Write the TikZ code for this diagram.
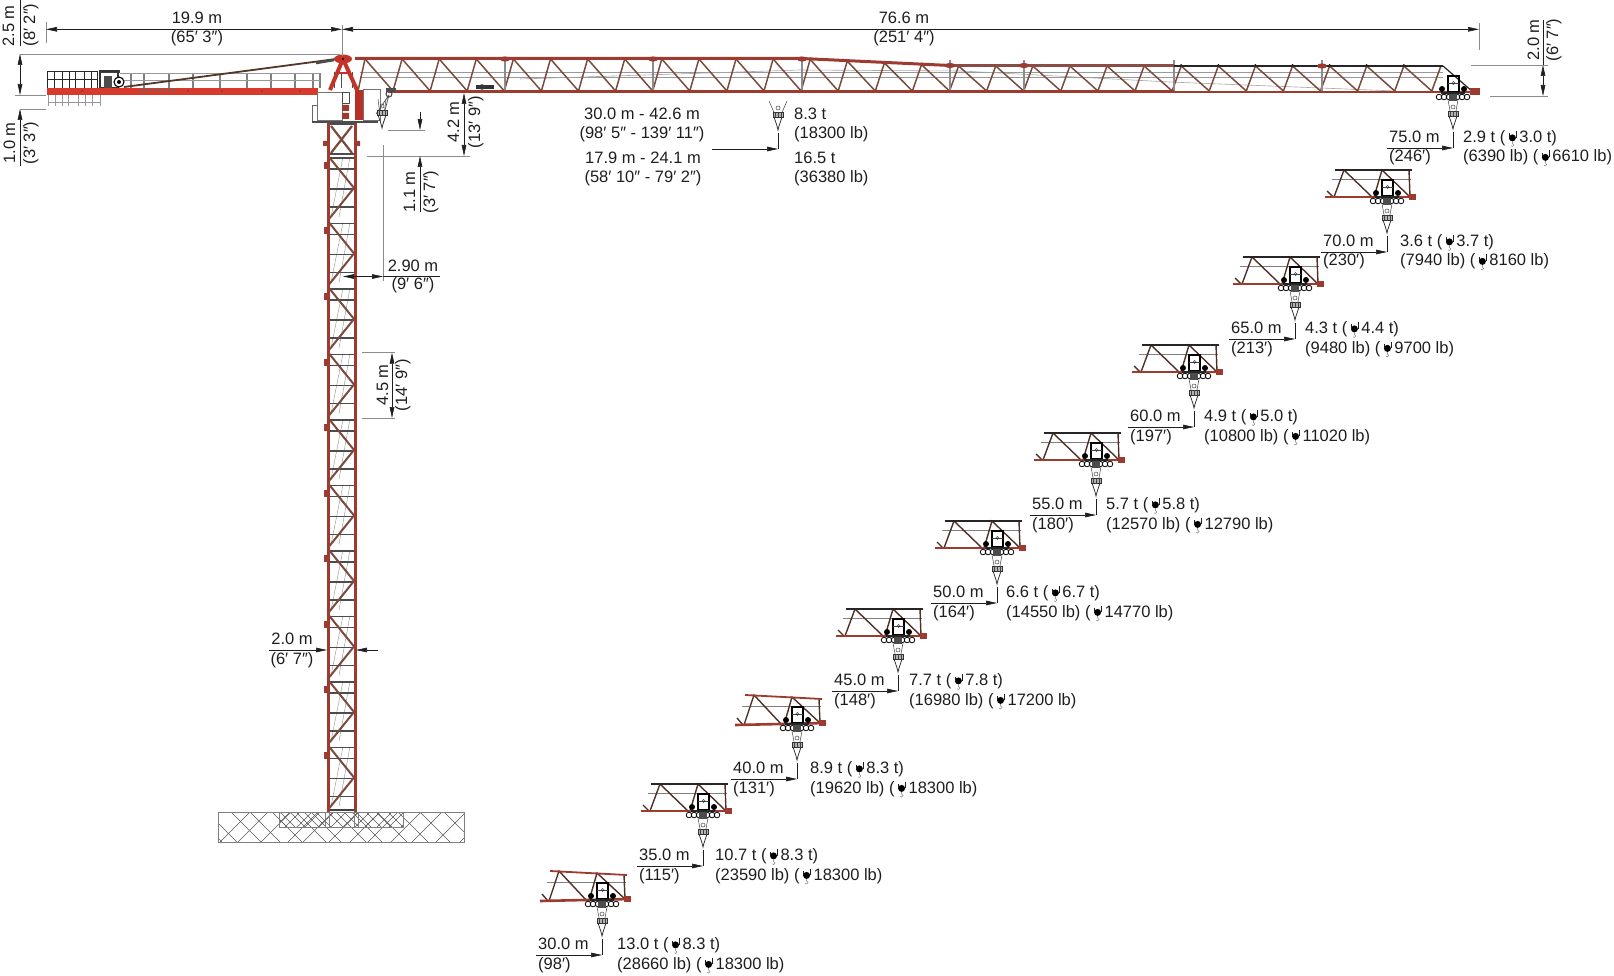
\documentclass[tikz,border=0pt]{standalone}
\usepackage{fontspec}
\setmainfont{Liberation Sans}
\usetikzlibrary{arrows.meta}
\usetikzlibrary{positioning}

\definecolor{steelred}{HTML}{9E3B30}
\definecolor{beamred}{HTML}{D9392B}
\definecolor{webbrown}{HTML}{7A4A3C}
\definecolor{textgrey}{HTML}{1E1E1E}
\definecolor{rulegrey}{HTML}{8C8C8C}

\tikzset{
  txt/.style={anchor=base,inner sep=0pt,text=textgrey,font=\fontsize{16.5}{19.7}\selectfont},
  txtl/.style={txt,anchor=base west},
  dimline/.style={line width=0.6pt,textgrey,{Stealth[length=11pt,width=4.6pt,inset=0pt]}-{Stealth[length=11pt,width=4.6pt,inset=0pt]}},
  dimend/.style={line width=0.6pt,textgrey,-{Stealth[length=11pt,width=4.6pt,inset=0pt]}},
  extline/.style={line width=0.7pt,rulegrey},
  chord/.style={line width=2.6pt,steelred},
  web/.style={line width=1.5pt,webbrown},
  fine/.style={line width=0.5pt,black!75},
}

% little hook in the load figures
\newcommand{\hk}{\tikz[x=1pt,y=1pt,baseline=0pt]{%
  \path (0,-4) rectangle (14,11);
  \fill[black] (7,4.6) circle (3.5);
  \draw[line width=0.5pt] (3.5,4.6)--(3.5,9) (10.5,4.6)--(10.5,11.5);
  \draw[line width=0.4pt,black!60] (7,1)--(7,-1) arc (90:-150:1.5);
}}

% hook block, tip at #1,#2, ropes spread #3
\newcommand{\hookblock}[3]{
\begin{scope}[shift={(#1,#2)}]
\draw[fine] (-#3,-29)--(-2,-13) (#3,-29)--(2,-13);
\draw[fine] (0,-22) circle (2);
\draw[line width=0.5pt,black!80,fill=black!30] (-5,-18) rectangle (5,-13);
\draw[fine] (-3,-18)--(-3,-13) (0,-18)--(0,-13) (3,-18)--(3,-13);
\draw[line width=0.8pt,black!80] (-4,-13)--(-1,-4)--(0,0)--(1,-4)--(4,-13);
\end{scope}
}

% trolley on the jib, tick of the dimension at #1,#2
\newcommand{\trolley}[2]{
\begin{scope}[shift={(#1,#2)}]
\draw[line width=1.3pt,black] (-5,-56) rectangle (6,-72);
\draw[fine] (-5,-65)--(6,-65);
\draw[fine] (0.5,-65) circle (1.5);
\fill[black] (-11,-59) circle (3) (11,-59) circle (3);
\foreach \w in {-14,-9,-4,4,9,14}
  \draw[line width=0.8pt] (\w,-51) circle (2.8);
\draw[line width=1.6pt,black!85] (-12,-55)--(12,-55);
\fill[black!70] (-4,-54) rectangle (4,-47);
\end{scope}
\hookblock{#1}{\the\numexpr#2-19\relax}{5}
}

% short piece of the jib with the trolley on it
\newcommand{\jibtip}[3]{
\begin{scope}[shift={(#1,#2)}]
\pgfmathsetmacro\ta{-82-2*#3}
\pgfmathsetmacro\tc{-82+2*#3}
\pgfmathsetmacro\ba{-55+#3}
\pgfmathsetmacro\bc{-55-#3}
\ifnum#3=1 \def\topc{steelred}\else\def\topc{black!85}\fi
\draw[line width=0.7pt,black!50] (-55,-73)--(24,-73);
\draw[line width=1.4pt,webbrown!65!black] (-60,-61)--(-54,\ba) (-53,\ba)--(-43,\ta)--(-15,\ba) (-13,\ba)--(-5,-82)--(23,\bc) (22,\tc)--(23,\bc);
\draw[line width=1.8pt,\topc] (-52,\ta)--(25,\tc);
\draw[line width=2.6pt,steelred] (-62,\ba)--(29,\bc);
\fill[steelred] (22,{\bc-3}) rectangle (29,{\bc+3});
\end{scope}
\trolley{#1}{#2}
}

\begin{document}
\begin{tikzpicture}[x=1pt,y=-1pt]
\useasboundingbox (0,0) rectangle (1614,976);

% foundation
\begin{scope}
\clip (218,812) rectangle (464,842);
\foreach \c in {170,192,207,231,250,272,296,311,336,352,377,398,420,444}
  \draw[line width=0.45pt,black!65] (\c,812)--(\c+30,842);
\foreach \c in {250,268,291,318,333,359,380,398,421,442,466,490}
  \draw[line width=0.45pt,black!65] (\c,812)--(\c-30,842);
\end{scope}
\begin{scope}
\clip (279,812) rectangle (403,827);
\foreach \c in {262,272,280,290,304,316,328,344,356,366,376,388}
  \draw[line width=0.45pt,black!65] (\c,812)--(\c+15,827);
\foreach \c in {290,300,312,320,334,346,358,370,380,392,404,416}
  \draw[line width=0.45pt,black!65] (\c,812)--(\c-15,827);
\end{scope}
\draw[line width=0.8pt,black!50] (218,812) rectangle (464,842);
\draw[line width=0.8pt,black!50] (279,812) rectangle (403,827);
\draw[line width=0.7pt,black!50] (325,812)--(325,827) (329,812)--(329,827) (354,812)--(354,827) (358,812)--(358,827);

% mast
\foreach \j in {0,...,9}{
  \pgfmathsetmacro\jy{155+65.5*\j}
  \draw[line width=0.4pt,black!45] (331,\jy+62)--(343,\jy+2) (339,\jy+62)--(350,\jy+2);
  \foreach \h in {3,14,34,52}
    \draw[line width=1.3pt,black!70] (329,\jy+\h)--(355,\jy+\h);
  \draw[line width=2pt,webbrown] (329,\jy+2)--(354,\jy+33)--(329,\jy+64);
  \fill[steelred] (324,\jy+7) rectangle (327,\jy+14);
}
\draw[line width=1.1pt,black!75] (329,810)--(355,810);
\draw[line width=2.2pt,webbrown] (331,126)--(352,153) (352,126)--(331,153);
\draw[line width=1.4pt,black!70] (327,124)--(356,124) (327,154)--(356,154);
\fill[steelred] (323,141) rectangle (327,146) (356,141) rectangle (360,146);
\draw[line width=3pt,steelred] (328.5,122)--(328.5,812);
\draw[line width=3pt,steelred] (355,122)--(355,812);

% counter jib
\foreach \x in {47,54,62,69,75,84,91,97}
  \draw[line width=1pt,black!85] (\x,72)--(\x,88);
\foreach \x in {48,55,62,68,78,85,92,100}
  \draw[line width=0.6pt,black!40] (\x,94)--(\x,106);
\draw[line width=0.6pt,black!40] (48,102)--(100,102);
\draw[line width=1pt,black!85] (47,72)--(98,72) (47,80)--(98,80);
\foreach \x in {131,144,169,193,220,247,271,295,313,320}
  \draw[line width=1.3pt,black!50] (\x,73)--(\x,88);
\draw[line width=0.7pt,black!40] (120,73)--(320,73) (120,80)--(320,80);
\fill[black!75] (100,70) rectangle (120,73);
\draw[line width=1.2pt,black!80] (100,71) rectangle (118,88);
\fill[black!70] (104,76) rectangle (112,88);
\draw[line width=1.1pt,black,fill=white] (119,82) circle (5);
\fill[black] (119,82) circle (2);
\draw[line width=1.8pt,webbrown!70!black] (124,87)--(336,59);
\draw[line width=2.6pt,black!70] (316,63)--(334,60);
\fill[beamred] (47,88) rectangle (318,95);
\foreach \x in {82,188,222,262,300}
  \fill[black!70] (\x,91) circle (1);
\draw[line width=1.4pt,black!60,dash pattern=on 3pt off 1.5pt] (140,90)--(175,90);

% slewing part and cab
\draw[line width=0.5pt,black!60,fill=white] (312,105) rectangle (318,122);
\draw[line width=0.6pt,black!55,fill=white] (317,92) rectangle (342,120);
\draw[line width=0.6pt,black!55,fill=white] (363,89) rectangle (380,120);
\draw[line width=1.2pt,black!70] (312,122)--(378,122);
\fill[steelred] (342,105) rectangle (349,111) (342,113) rectangle (349,119);
\fill[beamred!85!black] (355,90) rectangle (363,120);
\draw[line width=0.6pt,black!70] (342,92) rectangle (349,103);
\foreach \x in {334,341,352}
  \draw[line width=1pt,black!70] (\x,72)--(\x,88);
\draw[line width=4pt,beamred!90!black] (343,59)--(330,90);
\draw[line width=4pt,beamred!90!black] (343,59)--(357,90);
\draw[line width=2pt,beamred!90!black] (337,73)--(350,73);
\fill[beamred!90!black] (343,59) ellipse (9 and 4.5);
\fill[black] (343,59) circle (1.2);

% jib
\draw[line width=1pt,black!40] (360,73)--(1443,73);
\draw[line width=0.8pt,black!40] (360,77)--(1443,77);
\draw[line width=0.6pt,black!35] (520,79)--(800,70)--(961,71)--(1170,82)--(1396,91);
\foreach \k in {0,...,28}{
  \pgfmathsetmacro\tx{365+37.1*\k}
  \pgfmathsetmacro\bx{393+37.1*\k}
  \pgfmathsetmacro\nx{402.1+37.1*\k}
  \pgfmathsetmacro\ty{59+7*max(0,min(1,(\tx-802)/148))}
  \pgfmathsetmacro\ny{59+7*max(0,min(1,(\nx-802)/148))}
  \draw[web] (\tx,\ty)--(\bx,91)--(\nx,\ny);
  \fill[black] (\tx,\ty-0.8) circle (1.2);
}
\draw[web] (365,59)--(358,91);
\foreach \x in {505,653,802,950,1024,1174,1322}
  \draw[line width=1.2pt,black!45] (\x,60)--(\x,91);
\draw[line width=3pt,steelred] (355,58.5)--(802,58.5)--(950,65.5);
\draw[line width=2.2pt,steelred!75!black!85] (950,65.5)--(1174,65.5);
\draw[line width=1.2pt,black!85] (1174,66)--(1443,66);
\draw[line width=1.2pt,black!85] (1443,66)--(1473,92);
\draw[line width=3pt,steelred] (388,92)--(1174,92);
\draw[line width=2pt,steelred] (1174,92)--(1478,92);
\foreach \x/\y in {505/59,653/59,802/59,950/65.5,1024/65.5,1322/66}
  \fill[steelred] (\x,\y) ellipse (5 and 2.6);
\fill[steelred] (1470,88) rectangle (1480,95);
\fill[black!80] (476,85) rectangle (494,89);
\draw[fine] (482,87) circle (2.5);

% hook near the cab
\draw[line width=0.7pt,black!70] (389,95)--(376,114) (389,95)--(384,114);
\draw[line width=1pt,black!75] (389,94) circle (3);
\hookblock{382}{128}{4}
\fill[black!70] (386,88) rectangle (396,92);

% hook at the full jib
\hookblock{778}{130}{9}

% overall lengths
\draw[extline] (46,22)--(46,43);
\draw[extline] (342,25)--(342,56);
\draw[extline] (1479,23)--(1479,50);
\draw[dimline] (46,29.3)--(342,29.3);
\draw[dimline] (342,29.3)--(1479,29.3);
\node[txt] (jibback) at (197,24) {19.9 m};
\node[txt] (jibbackft) at (197,43) {(65′ 3″)};
\node[txt] (jibfront) at (904,24) {76.6 m};
\node[txt] (jibfrontft) at (904,43) {(251′ 4″)};

% heights at the left end
\draw[extline] (20,54)--(340,54);
\draw[extline] (15,95)--(46,95);
\draw[extline] (20,109)--(46,109);
\draw[line width=0.6pt,textgrey] (20,0)--(20,46);
\draw[line width=0.6pt,textgrey] (20,123)--(20,166);
\draw[dimline] (20,54)--(20,95);
\draw[dimend] (20,126)--(20,109);
\node[txt,rotate=90] (tophgt) at (14,26) {2.5 m};
\node[txt,rotate=90] (tophgtft) at (35,25) {(8′ 2″)};
\node[txt,rotate=90] (lowhgt) at (15,143) {1.0 m};
\node[txt,rotate=90] (lowhgtft) at (35,143) {(3′ 3″)};

% jib end height
\draw[extline] (1471,65)--(1548,65);
\draw[extline] (1490,96)--(1548,96);
\draw[line width=0.6pt,textgrey] (1543,20)--(1543,65);
\draw[dimline] (1543,65)--(1543,96);
\node[txt,rotate=90] (endhgt) at (1539,40) {2.0 m};
\node[txt,rotate=90] (endhgtft) at (1558,40) {(6′ 7″)};

% under the jib
\draw[extline] (388,130)--(425,130);
\draw[extline] (367,156)--(470,156);
\draw[dimend] (420,112)--(420,130);
\draw[dimend] (420,168)--(420,156);
\draw[line width=0.6pt,textgrey] (420,168)--(420,212);
\node[txt,rotate=90] (hookgap) at (415,192) {1.1 m};
\node[txt,rotate=90] (hookgapft) at (435,192) {(3′ 7″)};
\draw[dimline] (464,93)--(464,156);
\node[txt,rotate=90] (jibgap) at (459,122) {4.2 m};
\node[txt,rotate=90] (jibgapft) at (480,122) {(13′ 9″)};

% offset and section of the mast
\draw[extline] (383,145)--(383,281);
\draw[dimend] (353,276.5)--(343,276.5);
\draw[line width=0.6pt,textgrey] (353,276.5)--(372,276.5);
\draw[dimend] (372,276.5)--(383,276.5);
\draw[line width=0.6pt,textgrey] (383,276.5)--(440,276.5);
\node[txt] (clear) at (413,271.5) {2.90 m};
\node[txt] (clearft) at (413,290) {(9′ 6″)};
\draw[extline] (362,352.7)--(395,352.7);
\draw[extline] (362,418)--(395,418);
\draw[dimline] (392,352.7)--(392,418);
\node[txt,rotate=90] (section) at (388,385) {4.5 m};
\node[txt,rotate=90] (sectionft) at (407,385) {(14′ 9″)};
\draw[line width=0.6pt,textgrey] (269,650)--(316,650);
\draw[dimend] (316,650)--(327,650);
\draw[dimend] (378,650)--(356,650);
\node[txt] (mastw) at (292,644) {2.0 m};
\node[txt] (mastwft) at (292,664) {(6′ 7″)};

% maximum loads
\draw[line width=0.6pt,textgrey] (778,133)--(778,149);
\draw[dimend] (712,149)--(778,149);
\node[txt] (rangea) at (642,120) {30.0 m - 42.6 m};
\node[txt] (rangeaft) at (642,139) {(98′ 5″ - 139′ 11″)};
\node[txt] (rangeb) at (643,164) {17.9 m - 24.1 m};
\node[txt] (rangebft) at (643,183) {(58′ 10″ - 79′ 2″)};
\node[txt,anchor=base west] (loada) at (794,120) {8.3 t};
\node[txt,anchor=base west] (loadaft) at (794,139) {(18300 lb)};
\node[txt,anchor=base west] (loadb) at (794,164) {16.5 t};
\node[txt,anchor=base west] (loadbft) at (794,183) {(36380 lb)};

% load table along the jib
\foreach \dist/\ft/\tx/\ly/\rx/\load/\hload/\lb/\hlb in {
  30/98/602/955/617/13.0/8.3/28660/18300,
  35/115/703/866/715/10.7/8.3/23590/18300,
  40/131/797/779/810/8.9/8.3/19620/18300,
  45/148/898/691/909/7.7/7.8/16980/17200,
  50/164/997/603/1006/6.6/6.7/14550/14770,
  55/180/1096/515/1106/5.7/5.8/12570/12790,
  60/197/1194/427/1204/4.9/5.0/10800/11020,
  65/213/1295/339/1305/4.3/4.4/9480/9700,
  70/230/1387/252/1400/3.6/3.7/7940/8160,
  75/246/1453/148/1463/2.9/3.0/6390/6610}{
  \draw[line width=0.6pt,textgrey] (\tx,\ly-16)--(\tx,\ly);
  \draw[dimend] (\tx-66,\ly)--(\tx,\ly);
  \node[txtl] (reach\dist) at (\tx-64,\ly-5.5) {\dist.0 m};
  \node[txtl] (reachft\dist) at (\tx-64,\ly+14) {(\ft′)};
  \node[txtl] (tons\dist) at (\rx,\ly-5.5) {\load\ t (\hk\hload\ t)};
  \node[txtl] (lbs\dist) at (\rx,\ly+14) {(\lb\ lb) (\hk\hlb\ lb)};
}
\jibtip{602}{955}{1}
\jibtip{703}{866}{0}
\jibtip{797}{779}{1}
\jibtip{898}{691}{0}
\jibtip{997}{603}{0}
\jibtip{1096}{515}{0}
\jibtip{1194}{427}{0}
\jibtip{1295}{339}{0}
\jibtip{1387}{252}{0}
\trolley{1453}{148}

\end{tikzpicture}
\end{document}
